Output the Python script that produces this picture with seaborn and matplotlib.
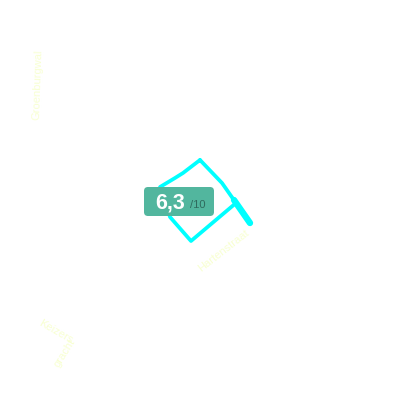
import matplotlib
matplotlib.use("Agg")
import matplotlib.pyplot as plt
from matplotlib.patches import FancyBboxPatch
import pandas as pd
import seaborn as sns

# outline of the area, in map pixels
outline_x = [200, 222, 236, 191, 170, 160, 175, 183, 200]
outline_y = [160, 183, 203, 241, 217, 187, 178, 173, 160]
# the bit of street that sticks out
stub_x = [234, 250]
stub_y = [200, 223]

score = "6,3"
score_max = "/10"

# street names on the map
street_names = ["Hartenstraat", "Groenburgwal", "Keizers", "gracht"]
street_x = [224, 38, 56, 65]
street_y = [251, 85, 332, 353]
street_rot = [38, 88, -30, 58]

sns.set_style("white")
plt.rcParams['font.family'] = ['Liberation Sans', 'DejaVu Sans']

fig = plt.figure(figsize=(4, 4), dpi=100)
ax = fig.add_axes([0, 0, 1, 1])

outline = pd.DataFrame({'x': outline_x, 'y': outline_y})
stub = pd.DataFrame({'x': stub_x, 'y': stub_y})
sns.lineplot(data=outline, x='x', y='y', sort=False, estimator=None, color='#00FFFF', linewidth=2.7, ax=ax)
sns.lineplot(data=stub, x='x', y='y', sort=False, estimator=None, color='#00FFFF', linewidth=4.6, ax=ax)

ax.set_xlim(0, 400)
ax.set_ylim(400, 0)
ax.axis('off')

for name, x, y, rot in zip(street_names, street_x, street_y, street_rot):
    ax.text(x, y, name, color='#F8FFD2', fontsize=8, rotation=rot, ha='center', va='center', rotation_mode='anchor')

# score badge
badge = FancyBboxPatch((144, 187), 70, 29, boxstyle='round,pad=0,rounding_size=4',
                       facecolor='#52B69E', edgecolor='none', zorder=5)
ax.add_patch(badge)
ax.text(155.5, 203, score, color='white', fontsize=15.5, fontweight='bold', ha='left', va='center', zorder=6)
ax.text(190, 204.5, score_max, color='#2F6B5E', fontsize=8, ha='left', va='center', zorder=6)

fig.savefig('out.png', dpi=100)
